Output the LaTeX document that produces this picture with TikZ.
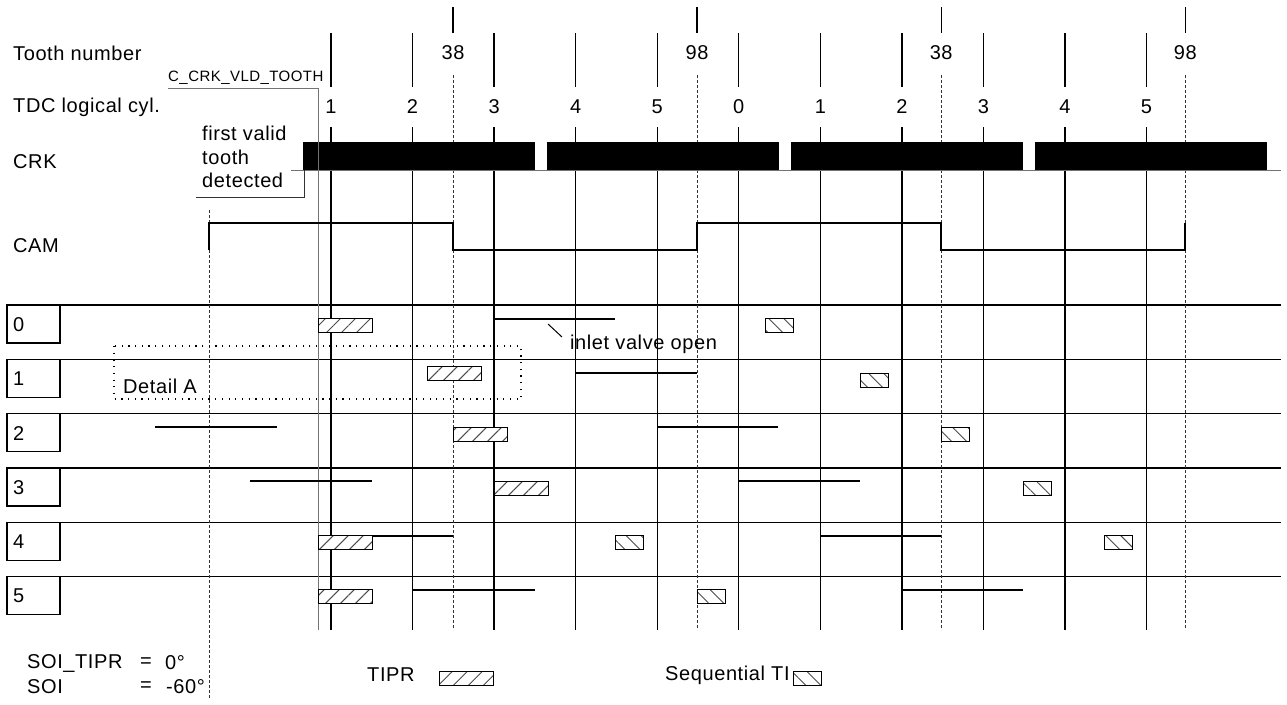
\documentclass[tikz,border=0pt]{standalone}
\usepackage{fontspec}
\setmainfont[LetterSpace=3]{Liberation Sans}
\usetikzlibrary{patterns.meta}

\begin{document}
\begin{tikzpicture}[x=1pt, y=-1pt,
  lbl/.style={font=\fontsize{20}{23.5}\selectfont, inner sep=0pt},
  smalllbl/.style={font=\fontsize{15}{18}\selectfont, inner sep=0pt},
  tdcline/.style={line width=1.4pt},
  toothline/.style={line width=0.9pt, black!80, dash pattern=on 3pt off 2pt},
  gridline/.style={line width=1.4pt},
  thinline/.style={line width=1pt, black!55},
  valve/.style={line width=2pt},
  tiprbox/.style={draw, line width=1pt, preaction={fill=white},
    pattern={Lines[angle=45, distance=10.6pt, line width=1pt]}, pattern color=black!70},
  seqbox/.style={draw, line width=1pt, preaction={fill=white},
    pattern={Lines[angle=-45, distance=10.6pt, line width=1pt]}, pattern color=black!70},
  detailbox/.style={line width=1.2pt, dash pattern=on 1.2pt off 5.5pt}]
\useasboundingbox (0,0) rectangle (1287,704);

% signal names
\node[lbl, anchor=west] (toothlbl) at (13,53) {Tooth number};
\node[lbl, anchor=west] (tdclbl) at (13,107) {TDC logical cyl.};
\node[lbl, anchor=west] (crklbl) at (13,162) {CRK};
\node[lbl, anchor=west] (camlbl) at (13,246) {CAM};

% cylinder rows
\foreach \r in {0,...,5} {
  \pgfmathsetmacro\yy{305+54.33*\r}
  \draw[gridline] (7,\yy) -- (1281,\yy);
  \draw[gridline] (7,\yy) rectangle (60,\yy+38);
  \node[lbl, anchor=west] (cyl\r) at (13,\yy+19.5) {\r};
}

% TDC lines
\foreach \lab [count=\i from 0] in {1,2,3,4,5,0,1,2,3,4,5} {
  \pgfmathsetmacro\xx{331+81.55*\i}
  \draw[tdcline] (\xx,33) -- (\xx,87) (\xx,127) -- (\xx,630);
  \node[lbl] (tdc\i) at (\xx,107) {\lab};
}

% tooth lines
\foreach \lab [count=\i from 0] in {38,98,38,98} {
  \pgfmathsetmacro\xx{453+244.1*\i}
  \draw[tdcline] (\xx,7) -- (\xx,33);
  \draw[toothline] (\xx,75) -- (\xx,630);
  \node[lbl] (tooth\i) at (\xx,53) {\lab};
}

% CRK
\draw[thinline] (291,170) -- (1281,170);
\foreach \k in {0,...,3}
  \fill (303+244.1*\k,142) rectangle ++(232,28);

% first valid tooth
\node[lbl, anchor=west, align=left] (firstvalid) at (202,157) {first valid\\tooth\\detected};
\draw[thinline, black!80] (196,197) -- (304,197) -- (304,170);
\node[smalllbl, anchor=west] (vldtooth) at (168,78) {C\_CRK\_VLD\_TOOTH};
\draw[thinline] (168,88) -- (318,88) -- (318,630);

% CAM
\draw[toothline] (209,210) -- (209,698);
\draw[line width=1.3pt] (209,250) -- (209,223) -- (453,223) -- (453,250) -- (697,250)
  -- (697,223) -- (941,223) -- (941,250) -- (1185,250) -- (1185,223);

% inlet valve open
\foreach \a/\b/\r in {494/615/0, 576/697/1, 155/277/2, 657/778/2, 250/372/3,
  739/860/3, 331/453/4, 820/941/4, 413/535/5, 902/1023/5}
  \draw[valve] (\a,305+54.33*\r+13.5) -- (\b,305+54.33*\r+13.5);
\node[lbl, anchor=west] (inletlbl) at (570,344) {inlet valve open};
\coordinate (valvetip) at (548,324);
\coordinate (valvefoot) at (562,337);
\draw[line width=1pt] (valvetip) -- (valvefoot);

% Detail A
\draw[detailbox] (114,346) rectangle (521,399);
\node[lbl, anchor=west] (detaila) at (123,386) {Detail A};

% injections
\foreach \a/\t in {318/318, 427/366, 453/427, 494/481, 318/535, 318/589}
  \draw[tiprbox] (\a,\t) rectangle ++(54,14);
\foreach \a/\t in {765/318, 860/373, 941/427, 1023/481, 615/535, 1104/535, 697/589}
  \draw[seqbox] (\a,\t) rectangle ++(28,14);

% legend
\node[lbl, anchor=west] (soitipr) at (27,663) {SOI\_TIPR};
\node[lbl, anchor=west] (eqone) at (140,663) {=};
\node[lbl, anchor=west] (valone) at (165,663) {0°};
\node[lbl, anchor=west] (soi) at (27,687) {SOI};
\node[lbl, anchor=west] (eqtwo) at (140,687) {=};
\node[lbl, anchor=west] (valtwo) at (166,687) {-60°};
\node[lbl, anchor=west] (tiprlbl) at (367,675) {TIPR};
\draw[tiprbox] (439,671) rectangle ++(54,14);
\node[lbl, anchor=west] (seqlbl) at (665,675) {Sequential TI};
\draw[seqbox] (793,671) rectangle ++(28,14);
\end{tikzpicture}
\end{document}
